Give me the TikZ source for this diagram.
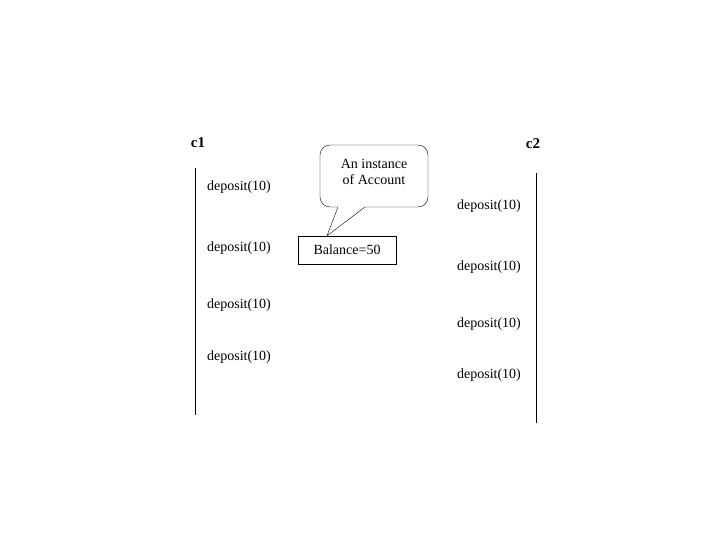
\documentclass[tikz,border=0pt]{standalone}
\usepackage{fontspec}
\setmainfont{Liberation Serif}
\begin{document}
\begin{tikzpicture}[x=1pt,y=-1pt,
  lbl/.style={font=\fontsize{14}{16}\selectfont,inner sep=0pt},
  hdr/.style={font=\fontsize{15}{17}\selectfont\bfseries,inner sep=0pt}]
\useasboundingbox (0,0) rectangle (720,540);
\node[hdr] (c1) at (198,143) {c1};
\node[hdr] (c2) at (533,144) {c2};
\coordinate (l1) at (195,168); \coordinate (l2) at (195,415);
\coordinate (r1) at (536,173); \coordinate (r2) at (536,423);
\draw[line width=0.8pt] (l1) -- (l2);
\draw[line width=0.8pt] (r1) -- (r2);
\foreach \y [count=\i] in {187,248,305,357} \node[lbl] (a\i) at (239,\y) {deposit(10)};
\foreach \y [count=\i] in {206,267,324,375} \node[lbl] (b\i) at (489,\y) {deposit(10)};
\node[draw,lbl,minimum width=98pt,minimum height=28pt] (bal) at (347,250) {Balance=50};
\draw[fill=white,rounded corners=10pt] (338,207) -- (320,207) -- (320,145) -- (428,145) -- (428,207) -- (365,207);
\draw (338,207) -- (bal.north west -| 327,0) -- (365,207);
\node[lbl,align=center] (note) at (374,172) {An instance\\of Account};
\end{tikzpicture}
\end{document}
